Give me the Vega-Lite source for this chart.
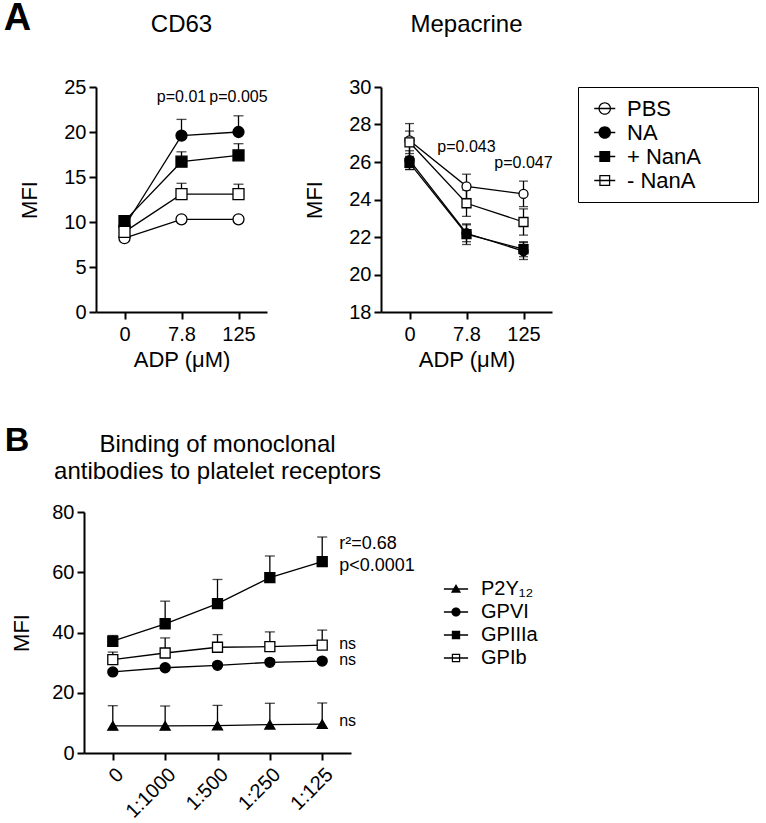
{
  "$schema": "https://vega.github.io/schema/vega-lite/v6.json",
  "background": "white",
  "padding": {"left": 3, "top": 0, "right": 0, "bottom": 0},
  "config": {
    "font": "Liberation Sans",
    "view": {"stroke": null},
    "axis": {
      "domainColor": "black", "domainWidth": 2, "tickColor": "black", "tickWidth": 2, "tickSize": 7,
      "labelColor": "black", "labelFont": "Liberation Sans", "labelFontSize": 20, "labelPadding": 3,
      "labelOverlap": false,
      "titleColor": "black", "titleFont": "Liberation Sans", "titleFontSize": 22, "titleFontWeight": "normal",
      "grid": false
    },
    "legend": {"labelFont": "Liberation Sans", "labelColor": "black"},
    "title": {"color": "black", "font": "Liberation Sans"}
  },
  "datasets": {
    "cd63": [
      {"g": "PBS", "x": "0", "v": 8.2, "lo": 8.2, "hi": 8.5},
      {"g": "PBS", "x": "7.8", "v": 10.3, "lo": 10.3, "hi": 10.6},
      {"g": "PBS", "x": "125", "v": 10.3, "lo": 10.3, "hi": 10.6},
      {"g": "NA", "x": "0", "v": 9.5, "lo": 9.5, "hi": 9.9},
      {"g": "NA", "x": "7.8", "v": 19.6, "lo": 19.6, "hi": 21.4},
      {"g": "NA", "x": "125", "v": 20.0, "lo": 20.0, "hi": 21.8},
      {"g": "+ NanA", "x": "0", "v": 10.1, "lo": 10.1, "hi": 10.4},
      {"g": "+ NanA", "x": "7.8", "v": 16.7, "lo": 16.7, "hi": 17.8},
      {"g": "+ NanA", "x": "125", "v": 17.4, "lo": 17.4, "hi": 18.7},
      {"g": "- NanA", "x": "0", "v": 8.9, "lo": 8.9, "hi": 9.2},
      {"g": "- NanA", "x": "7.8", "v": 13.1, "lo": 13.1, "hi": 14.3},
      {"g": "- NanA", "x": "125", "v": 13.1, "lo": 13.1, "hi": 14.2}
    ],
    "mep": [
      {"g": "PBS", "x": "0", "v": 27.15, "lo": 26.25, "hi": 28.05},
      {"g": "PBS", "x": "7.8", "v": 24.7, "lo": 24.05, "hi": 25.35},
      {"g": "PBS", "x": "125", "v": 24.3, "lo": 23.62, "hi": 24.98},
      {"g": "NA", "x": "0", "v": 26.1, "lo": 25.6, "hi": 26.6},
      {"g": "NA", "x": "7.8", "v": 22.2, "lo": 21.75, "hi": 22.65},
      {"g": "NA", "x": "125", "v": 21.25, "lo": 20.8, "hi": 21.7},
      {"g": "+ NanA", "x": "0", "v": 25.95, "lo": 25.6, "hi": 26.3},
      {"g": "+ NanA", "x": "7.8", "v": 22.15, "lo": 21.6, "hi": 22.7},
      {"g": "+ NanA", "x": "125", "v": 21.35, "lo": 20.95, "hi": 21.75},
      {"g": "- NanA", "x": "0", "v": 27.05, "lo": 26.45, "hi": 27.65},
      {"g": "- NanA", "x": "7.8", "v": 23.8, "lo": 23.1, "hi": 24.5},
      {"g": "- NanA", "x": "125", "v": 22.8, "lo": 22.1, "hi": 23.5}
    ],
    "bind": [
      {"g": "P2Y₁₂", "x": "0", "v": 9.0, "hi": 15.7},
      {"g": "P2Y₁₂", "x": "1:1000", "v": 9.0, "hi": 15.6},
      {"g": "P2Y₁₂", "x": "1:500", "v": 9.1, "hi": 15.8},
      {"g": "P2Y₁₂", "x": "1:250", "v": 9.4, "hi": 16.5},
      {"g": "P2Y₁₂", "x": "1:125", "v": 9.6, "hi": 16.6},
      {"g": "GPVI", "x": "0", "v": 26.9, "hi": 27.5},
      {"g": "GPVI", "x": "1:1000", "v": 28.3, "hi": 29.0},
      {"g": "GPVI", "x": "1:500", "v": 29.1, "hi": 29.8},
      {"g": "GPVI", "x": "1:250", "v": 30.1, "hi": 30.8},
      {"g": "GPVI", "x": "1:125", "v": 30.5, "hi": 31.2},
      {"g": "GPIIIa", "x": "0", "v": 37.1, "hi": 39.0},
      {"g": "GPIIIa", "x": "1:1000", "v": 42.9, "hi": 50.4},
      {"g": "GPIIIa", "x": "1:500", "v": 49.6, "hi": 57.6},
      {"g": "GPIIIa", "x": "1:250", "v": 58.2, "hi": 65.4},
      {"g": "GPIIIa", "x": "1:125", "v": 63.5, "hi": 71.7},
      {"g": "GPIb", "x": "0", "v": 31.0, "hi": 33.5},
      {"g": "GPIb", "x": "1:1000", "v": 33.2, "hi": 38.2},
      {"g": "GPIb", "x": "1:500", "v": 35.1, "hi": 39.3},
      {"g": "GPIb", "x": "1:250", "v": 35.3, "hi": 40.2},
      {"g": "GPIb", "x": "1:125", "v": 35.8, "hi": 40.8}
    ],
    "cd63_p": [
      {"x": "7.8", "y": 23.9, "t": "p=0.01"},
      {"x": "125", "y": 23.9, "t": "p=0.005"}
    ],
    "mep_p": [
      {"x": "7.8", "y": 26.8, "t": "p=0.043"},
      {"x": "125", "y": 25.93, "t": "p=0.047"}
    ],
    "bind_p": [
      {"x": "1:125", "y": 69.3, "t": "r²=0.68"},
      {"x": "1:125", "y": 62.0, "t": "p<0.0001"},
      {"x": "1:125", "y": 36.3, "t": "ns"},
      {"x": "1:125", "y": 30.8, "t": "ns"},
      {"x": "1:125", "y": 10.5, "t": "ns"}
    ],
    "none": []
  },
  "resolve": {
    "scale": {"x": "independent", "y": "independent", "shape": "independent", "fill": "independent"},
    "legend": {"shape": "independent", "fill": "independent"}
  },
  "columns": 1,
  "align": "none",
  "spacing": 54,
  "concat": [
    {
      "title": {"text": "A", "anchor": "start", "frame": "bounds", "fontSize": 38, "fontWeight": "bold", "offset": -25, "dx": -15},
      "columns": 2,
      "align": "none",
      "spacing": -67,
      "resolve": {
        "scale": {"x": "independent", "y": "independent", "shape": "independent", "fill": "independent"},
        "legend": {"shape": "independent", "fill": "independent"}
      },
      "concat": [
        {"width": 1, "height": 1, "data": {"name": "none"}, "mark": "point"},
        {
          "columns": 2,
          "align": "none",
          "spacing": 35,
          "resolve": {
            "scale": {"x": "independent", "y": "independent", "shape": "independent", "fill": "independent"},
            "legend": {"shape": "independent", "fill": "independent"}
          },
          "concat": [
            {
              "width": 171,
              "height": 225,
              "title": {"text": "CD63", "fontSize": 24, "fontWeight": "normal", "frame": "group", "anchor": "middle", "offset": 40},
              "data": {"name": "cd63"},
              "encoding": {
                "x": {"field": "x", "type": "ordinal", "sort": ["0", "7.8", "125"], "scale": {"type": "point", "padding": 0.5},
                      "axis": {"title": "ADP (μM)", "labelAngle": 0, "labelPadding": 5, "titlePadding": 5}}
              },
              "layer": [
                {
                  "mark": {"type": "rule", "color": "black", "strokeWidth": 1.3},
                  "encoding": {
                    "y": {"field": "lo", "type": "quantitative", "scale": {"domain": [0, 25], "nice": false},
                          "axis": {"values": [0, 5, 10, 15, 20, 25], "tickCount": 10, "title": "MFI", "titlePadding": 22}},
                    "y2": {"field": "hi"}
                  }
                },
                {
                  "mark": {"type": "tick", "orient": "horizontal", "color": "black", "size": 10, "thickness": 1.3},
                  "encoding": {"y": {"field": "hi", "type": "quantitative"}}
                },
                {
                  "mark": {"type": "line", "color": "black", "strokeWidth": 1.3},
                  "encoding": {"y": {"field": "v", "type": "quantitative"}, "detail": {"field": "g"}}
                },
                {
                  "mark": {"type": "point", "filled": true, "stroke": "black", "strokeWidth": 1.3, "opacity": 1, "size": 121},
                  "encoding": {
                    "y": {"field": "v", "type": "quantitative"},
                    "shape": {"field": "g", "type": "nominal", "scale": {"domain": ["PBS", "NA", "+ NanA", "- NanA"], "range": ["circle", "circle", "square", "square"]}, "legend": null},
                    "fill": {"field": "g", "type": "nominal", "scale": {"domain": ["PBS", "NA", "+ NanA", "- NanA"], "range": ["white", "black", "black", "white"]}, "legend": null}
                  }
                },
                {
                  "data": {"name": "cd63_p"},
                  "mark": {"type": "text", "fontSize": 16, "color": "black", "align": "center", "baseline": "middle"},
                  "encoding": {"y": {"field": "y", "type": "quantitative"}, "text": {"field": "t"}}
                }
              ]
            },
            {
              "width": 171,
              "height": 225,
              "title": {"text": "Mepacrine", "fontSize": 24, "fontWeight": "normal", "frame": "group", "anchor": "middle", "offset": 40},
              "data": {"name": "mep"},
              "resolve": {"scale": {"shape": "independent"}, "legend": {"shape": "independent"}},
              "encoding": {
                "x": {"field": "x", "type": "ordinal", "sort": ["0", "7.8", "125"], "scale": {"type": "point", "padding": 0.5},
                      "axis": {"title": "ADP (μM)", "labelAngle": 0, "labelPadding": 5, "titlePadding": 5}}
              },
              "layer": [
                {
                  "mark": {"type": "rule", "color": "black", "strokeWidth": 1.3},
                  "encoding": {
                    "y": {"field": "lo", "type": "quantitative", "scale": {"domain": [18, 30], "nice": false},
                          "axis": {"values": [18, 20, 22, 24, 26, 28, 30], "tickCount": 10, "labelOverlap": false, "title": "MFI", "titlePadding": 22}},
                    "y2": {"field": "hi"}
                  }
                },
                {
                  "mark": {"type": "tick", "orient": "horizontal", "color": "black", "size": 9, "thickness": 1.3},
                  "encoding": {"y": {"field": "hi", "type": "quantitative"}}
                },
                {
                  "mark": {"type": "tick", "orient": "horizontal", "color": "black", "size": 9, "thickness": 1.3},
                  "encoding": {"y": {"field": "lo", "type": "quantitative"}}
                },
                {
                  "mark": {"type": "line", "color": "black", "strokeWidth": 1.3},
                  "encoding": {"y": {"field": "v", "type": "quantitative"}, "detail": {"field": "g"}}
                },
                {
                  "mark": {"type": "point", "filled": true, "stroke": "black", "strokeWidth": 1.3, "opacity": 1, "size": 81},
                  "encoding": {
                    "y": {"field": "v", "type": "quantitative"},
                    "shape": {"field": "g", "type": "nominal", "scale": {"domain": ["NA", "PBS", "+ NanA", "- NanA"], "range": ["circle", "circle", "square", "square"]}, "legend": null},
                    "fill": {"field": "g", "type": "nominal", "scale": {"domain": ["PBS", "NA", "+ NanA", "- NanA"], "range": ["white", "black", "black", "white"]}, "legend": null}
                  }
                },
                {
                  "mark": {"type": "point", "filled": true, "color": "black", "opacity": 0, "size": 81},
                  "encoding": {
                    "y": {"field": "v", "type": "quantitative"},
                    "shape": {"field": "g", "type": "nominal",
                      "scale": {"domain": ["PBS", "NA", "+ NanA", "- NanA"],
                        "range": [
                          "M-0.5,-0.065H1.5V0.065H-0.5ZM1.1,0A0.6,0.6,0,1,1,-0.1,0A0.6,0.6,0,1,1,1.1,0ZM0.98,0A0.48,0.48,0,1,0,0.02,0A0.48,0.48,0,1,0,0.98,0Z",
                          "M-0.5,-0.065H1.5V0.065H-0.5ZM1.1,0A0.6,0.6,0,1,1,-0.1,0A0.6,0.6,0,1,1,1.1,0Z",
                          "M-0.5,-0.065H1.5V0.065H-0.5ZM-0.02,-0.52H1.02V0.52H-0.02Z",
                          "M-0.5,-0.065H1.5V0.065H-0.5ZM-0.02,-0.52H1.02V0.52H-0.02ZM0.1,-0.4V0.4H0.9V-0.4Z"
                        ]},
                      "legend": {
                        "title": "x", "titleOrient": "right", "titleColor": "white", "titleFontSize": 30, "titlePadding": 30,
                        "orient": "right", "offset": 26, "padding": 10,
                        "strokeColor": "black", "symbolSize": 441, "labelFontSize": 22, "labelOffset": 16, "rowPadding": 1,
                        "symbolOpacity": 1, "symbolFillColor": "black",
                        "encode": {
                          "symbols": {
                            "update": {
                              "fill": {"value": "black"},
                              "fillOpacity": {"value": 1},
                              "opacity": {"value": 1}
                            }
                          }
                        }
                      }
                    }
                  }
                },
                {
                  "data": {"name": "mep_p"},
                  "mark": {"type": "text", "fontSize": 16, "color": "black", "align": "center", "baseline": "middle"},
                  "encoding": {"y": {"field": "y", "type": "quantitative"}, "text": {"field": "t"}}
                }
              ]
            }
          ]
        }
      ]
    },
    {
      "title": {"text": "B", "anchor": "start", "frame": "bounds", "fontSize": 34, "fontWeight": "bold", "offset": -25, "dx": -6},
      "columns": 1,
      "align": "none",
      "concat": [
        {
          "width": 267,
          "height": 241,
          "title": {"text": ["Binding of monoclonal", "antibodies to platelet receptors"], "fontSize": 24, "lineHeight": 27, "fontWeight": "normal", "frame": "group", "anchor": "middle", "offset": 18},
          "data": {"name": "bind"},
          "resolve": {"scale": {"shape": "independent"}, "legend": {"shape": "independent"}},
          "encoding": {
            "x": {"field": "x", "type": "ordinal", "sort": ["0", "1:1000", "1:500", "1:250", "1:125"], "scale": {"type": "point", "padding": 0.55},
                  "axis": {"title": null, "labelAngle": -45, "labelPadding": 4}}
          },
          "layer": [
            {
              "mark": {"type": "rule", "color": "black", "strokeWidth": 1.3},
              "encoding": {
                "y": {"field": "v", "type": "quantitative", "scale": {"domain": [0, 80], "nice": false},
                      "axis": {"values": [0, 20, 40, 60, 80], "tickCount": 10, "title": "MFI", "titlePadding": 18}},
                "y2": {"field": "hi"}
              }
            },
            {
              "mark": {"type": "tick", "orient": "horizontal", "color": "black", "size": 10, "thickness": 1.3},
              "encoding": {"y": {"field": "hi", "type": "quantitative"}}
            },
            {
              "mark": {"type": "line", "color": "black", "strokeWidth": 1.3},
              "encoding": {"y": {"field": "v", "type": "quantitative"}, "detail": {"field": "g"}}
            },
            {
              "mark": {"type": "point", "filled": true, "stroke": "black", "strokeWidth": 1.3, "opacity": 1, "size": 100},
              "encoding": {
                "y": {"field": "v", "type": "quantitative"},
                "shape": {"field": "g", "type": "nominal", "scale": {"domain": ["GPVI", "P2Y₁₂", "GPIIIa", "GPIb"], "range": ["circle", "triangle-up", "square", "square"]}, "legend": null},
                "fill": {"field": "g", "type": "nominal", "scale": {"domain": ["P2Y₁₂", "GPVI", "GPIIIa", "GPIb"], "range": ["black", "black", "black", "white"]}, "legend": null}
              }
            },
            {
              "mark": {"type": "point", "filled": true, "color": "black", "opacity": 0, "size": 100},
              "encoding": {
                "y": {"field": "v", "type": "quantitative"},
                "shape": {"field": "g", "type": "nominal",
                  "scale": {"domain": ["P2Y₁₂", "GPVI", "GPIIIa", "GPIb"],
                    "range": [
                      "M-1.1,-0.06H1.1V0.06H-1.1ZM0,-0.45L0.46,0.34H-0.46Z",
                      "M-1.1,-0.06H1.1V0.06H-1.1ZM0.42,0A0.42,0.42,0,1,1,-0.42,0A0.42,0.42,0,1,1,0.42,0Z",
                      "M-1.1,-0.06H1.1V0.06H-1.1ZM-0.38,-0.38H0.38V0.38H-0.38Z",
                      "M-1.1,-0.06H1.1V0.06H-1.1ZM-0.38,-0.38H0.38V0.38H-0.38ZM-0.27,-0.27V0.27H0.27V-0.27Z"
                    ]},
                  "legend": {
                    "title": null, "orient": "none", "legendX": 360, "legendY": 65, "padding": 0,
                    "symbolSize": 484, "labelFontSize": 20, "labelOffset": 13, "rowPadding": 1,
                    "symbolOpacity": 1, "symbolFillColor": "black",
                    "encode": {
                      "symbols": {
                        "update": {
                          "fill": {"value": "black"},
                          "fillOpacity": {"value": 1},
                          "opacity": {"value": 1}
                        }
                      }
                    }
                  }
                }
              }
            },
            {
              "data": {"name": "bind_p"},
              "transform": [{"filter": "datum.t !== 'ns'"}],
              "mark": {"type": "text", "fontSize": 18, "color": "black", "align": "left", "baseline": "middle", "dx": 17},
              "encoding": {"y": {"field": "y", "type": "quantitative"}, "text": {"field": "t"}}
            },
            {
              "data": {"name": "bind_p"},
              "transform": [{"filter": "datum.t === 'ns'"}],
              "mark": {"type": "text", "fontSize": 16, "color": "black", "align": "left", "baseline": "middle", "dx": 17},
              "encoding": {"y": {"field": "y", "type": "quantitative"}, "text": {"field": "t"}}
            }
          ]
        }
      ]
    }
  ]
}
